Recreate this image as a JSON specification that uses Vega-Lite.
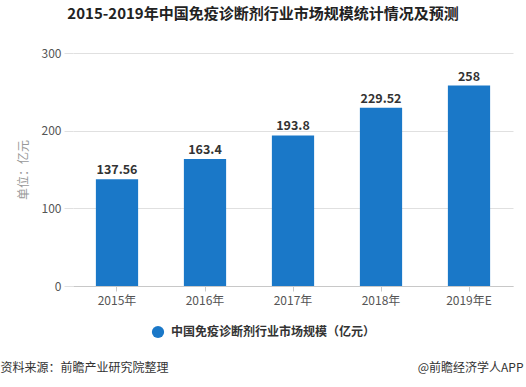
{
  "$schema": "https://vega.github.io/schema/vega-lite/v6.json",
  "autosize": {"type": "none"},
  "width": 440,
  "height": 233,
  "padding": {"left": 73, "top": 53, "right": 13, "bottom": 101},
  "background": "#ffffff",
  "config": {
    "font": "Noto Sans CJK SC",
    "view": {"stroke": null}
  },
  "title": {
    "text": "2015-2019年中国免疫诊断剂行业市场规模统计情况及预测",
    "fontSize": 15,
    "fontWeight": "bold",
    "color": "#222222",
    "anchor": "middle",
    "dx": -30,
    "offset": 25
  },
  "data": {
    "values": [
      {"year": "2015年", "value": 137.56, "series": "中国免疫诊断剂行业市场规模（亿元）"},
      {"year": "2016年", "value": 163.4, "series": "中国免疫诊断剂行业市场规模（亿元）"},
      {"year": "2017年", "value": 193.8, "series": "中国免疫诊断剂行业市场规模（亿元）"},
      {"year": "2018年", "value": 229.52, "series": "中国免疫诊断剂行业市场规模（亿元）"},
      {"year": "2019年E", "value": 258, "series": "中国免疫诊断剂行业市场规模（亿元）"}
    ]
  },
  "encoding": {
    "x": {
      "field": "year",
      "type": "nominal",
      "sort": null,
      "scale": {"paddingInner": 0.52, "paddingOuter": 0.26},
      "axis": {
        "labelAngle": 0,
        "labelFontSize": 12,
        "labelColor": "#555555",
        "labelPadding": 4,
        "domainColor": "#c8c8c8",
        "tickColor": "#c8c8c8",
        "tickSize": 5,
        "title": "资料来源：前瞻产业研究院整理",
        "titleFontSize": 12,
        "titleFontWeight": "normal",
        "titleColor": "#333333",
        "titleAnchor": "start",
        "titleAlign": "left",
        "titleBaseline": "middle",
        "titleX": -73,
        "titleY": 81
      }
    },
    "y": {
      "field": "value",
      "type": "quantitative",
      "scale": {"domain": [0, 300]},
      "axis": {
        "values": [0, 100, 200, 300],
        "grid": true,
        "gridColor": "#e0e0e0",
        "domain": false,
        "tickColor": "#e0e0e0",
        "tickSize": 9,
        "labelFontSize": 12,
        "labelColor": "#555555",
        "labelPadding": 3,
        "title": "单位：亿元",
        "titleFontSize": 12,
        "titleFontWeight": "normal",
        "titleColor": "#999999",
        "titlePadding": 11
      }
    }
  },
  "layer": [
    {
      "mark": {"type": "bar", "color": "#1a78c8"},
      "encoding": {
        "color": {
          "field": "series",
          "type": "nominal",
          "scale": {"range": ["#1a78c8"]},
          "legend": {
            "title": null,
            "orient": "none",
            "legendX": 78,
            "legendY": 272,
            "symbolType": "circle",
            "symbolSize": 150,
            "labelFontSize": 12,
            "labelFontWeight": "bold",
            "labelColor": "#333333",
            "labelOffset": 6,
            "labelLimit": 400
          }
        }
      }
    },
    {
      "mark": {"type": "text", "dy": -9, "fontSize": 12.5, "fontWeight": "bold", "color": "#333333"},
      "encoding": {
        "text": {"field": "value", "type": "quantitative"},
        "y": {
          "field": "value",
          "type": "quantitative",
          "axis": {
            "orient": "right",
            "labels": false,
            "ticks": false,
            "domain": false,
            "grid": false,
            "title": "@前瞻经济学人APP",
            "titleAngle": 0,
            "titleFontSize": 12,
            "titleFontWeight": "normal",
            "titleColor": "#333333",
            "titleAlign": "right",
            "titleBaseline": "middle",
            "titleX": 10,
            "titleY": 314
          }
        }
      }
    }
  ],
  "resolve": {"axis": {"y": "independent"}}
}
